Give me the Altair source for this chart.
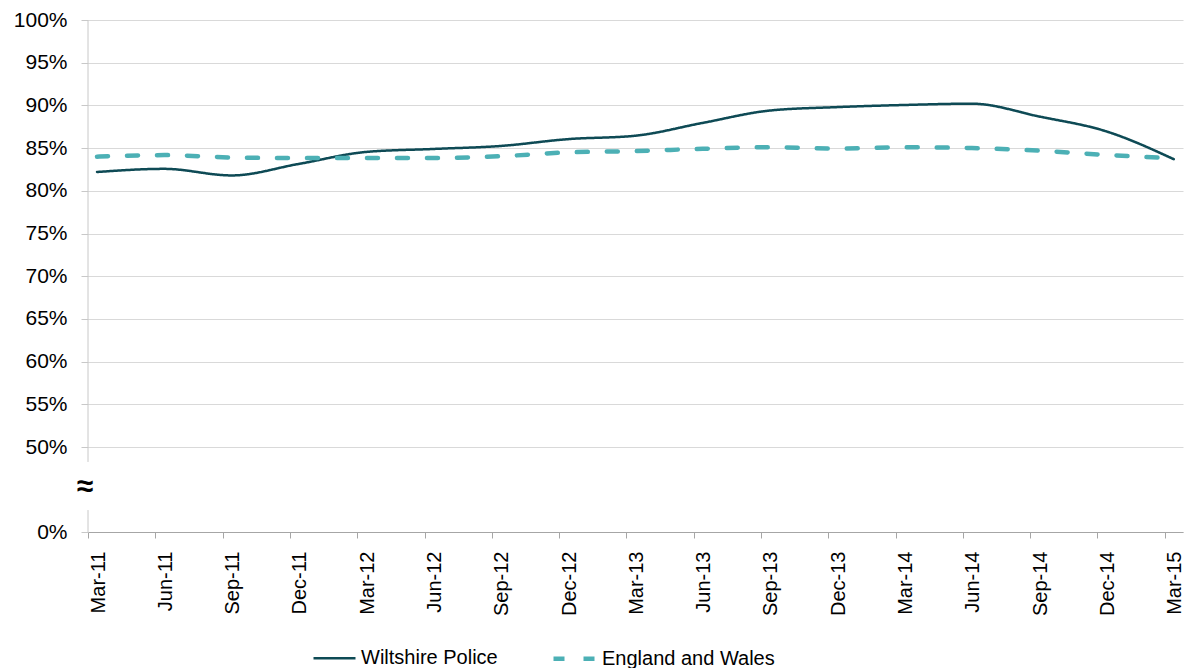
import json
import altair as alt
import pandas as pd

# Quarter labels and the two satisfaction series (percent)
quarters = ["Mar-11", "Jun-11", "Sep-11", "Dec-11", "Mar-12", "Jun-12", "Sep-12",
            "Dec-12", "Mar-13", "Jun-13", "Sep-13", "Dec-13", "Mar-14", "Jun-14",
            "Sep-14", "Dec-14", "Mar-15"]
wiltshire = [82.2, 82.57, 81.8, 83.15, 84.55, 84.9, 85.25, 86.05, 86.45, 87.95,
             89.4, 89.8, 90.05, 90.2, 88.7, 86.95, 83.7]
england_wales = [84.0, 84.18, 83.9, 83.83, 83.83, 83.83, 84.05, 84.5, 84.65, 84.92,
                 85.1, 84.95, 85.1, 85.0, 84.7, 84.2, 83.8]
series_names = ["Wiltshire Police", "England and Wales"]
series_colors = ["#0e4a55", "#4cb0b5"]
y_tick_values = [0, 50, 55, 60, 65, 70, 75, 80, 85, 90, 95, 100]

rows = []
for i, q in enumerate(quarters):
    rows.append({"idx": i, "quarter": q, "series": series_names[0], "value": wiltshire[i]})
    rows.append({"idx": i, "quarter": q, "series": series_names[1], "value": england_wales[i]})
df = pd.DataFrame(rows)

FONT = "Liberation Sans"
W, H = 1095, 512

# Broken y scale: 0-50 squeezed into the bottom strip, 50-100 across the main area
y_scale = alt.Scale(domain=[0, 50, 100], range=[H, 427, 0], nice=False, zero=False)
x_scale = alt.Scale(domain=[-0.134, 16.137], nice=False, zero=False)

label_expr = json.dumps(quarters) + "[datum.value]"


def series_legend():
    return alt.Legend(orient="none", legendX=224, legendY=615,
                      direction="horizontal", title=None,
                      symbolType="stroke", symbolSize=1764,
                      labelFont=FONT, labelFontSize=20, labelLimit=400,
                      labelColor="#000000", labelOffset=4,
                      columnPadding=46)


lines = alt.Chart(df).mark_line(interpolate="monotone", strokeCap="round").encode(
    x=alt.X("idx:Q", scale=x_scale, title=None,
            axis=alt.Axis(values=list(range(len(quarters))), labelExpr=label_expr,
                          labelAngle=270, labelAlign="right", labelBaseline="middle",
                          tickOffset=-9, labelOffset=10, tickSize=6, labelPadding=13,
                          grid=False, domainColor="#a6a6a6", tickColor="#a6a6a6",
                          labelFont=FONT, labelFontSize=20, labelColor="#000000")),
    y=alt.Y("value:Q", scale=y_scale, title=None,
            axis=alt.Axis(values=y_tick_values, labelExpr="datum.value + '%'",
                          domain=False, grid=True, gridColor="#d9d9d9",
                          tickColor="#c8c8c8", tickSize=7, labelPadding=14,
                          labelFont=FONT, labelFontSize=21, labelColor="#000000")),
    color=alt.Color("series:N", scale=alt.Scale(domain=series_names, range=series_colors),
                    sort=series_names, legend=series_legend()),
    strokeDash=alt.StrokeDash("series:N", sort=series_names,
                              scale=alt.Scale(domain=series_names, range=[[1, 0], [11, 19]]),
                              legend=series_legend()),
    strokeWidth=alt.StrokeWidth("series:N", sort=series_names,
                                scale=alt.Scale(domain=series_names, range=[2.5, 4.5]),
                                legend=series_legend()),
)

# Y axis line drawn in two pieces around the break
axis_segments = pd.DataFrame({"top": [100, 12.9], "bottom": [41.2, 0]})
axis_line = alt.Chart(axis_segments).mark_rule(color="#c8c8c8", strokeWidth=1).encode(
    x=alt.value(0),
    y=alt.Y("top:Q", scale=y_scale),
    y2="bottom:Q",
)

break_mark = alt.Chart(pd.DataFrame({"t": ["≈"]})).mark_text(
    font=FONT, fontSize=30, fontWeight="bold", color="#000000"
).encode(x=alt.value(-3), y=alt.value(467), text="t:N")

chart = alt.layer(lines, axis_line, break_mark).properties(
    width=W, height=H,
    autosize=alt.AutoSizeParams(type="none"),
    padding={"left": 88, "top": 20, "right": 2, "bottom": 136},
    background="#ffffff",
).configure_view(stroke=None)

chart.save("out.html", embed_options={"renderer": "svg", "actions": False})
